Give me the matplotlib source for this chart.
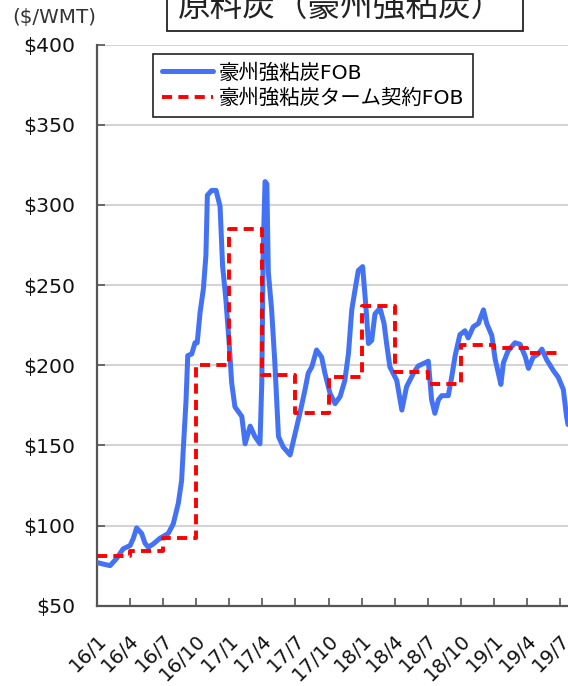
import matplotlib
matplotlib.use("Agg")
import matplotlib.pyplot as plt
import matplotlib.patches as mpatches
import pandas as pd

plt.rcParams['font.family'] = ['DejaVu Sans', 'Noto Sans CJK JP']

# ---- data ----
blue_dates = [
    "2016-01-01", "2016-01-18", "2016-02-07", "2016-02-25", "2016-03-14", "2016-04-02",
    "2016-04-11", "2016-04-20", "2016-05-04", "2016-05-13", "2016-05-22", "2016-06-05",
    "2016-06-23", "2016-07-16", "2016-07-30", "2016-08-13", "2016-08-22", "2016-08-27",
    "2016-09-03", "2016-09-08", "2016-09-19", "2016-09-28", "2016-10-04", "2016-10-12",
    "2016-10-21", "2016-10-28", "2016-11-01", "2016-11-13", "2016-11-25", "2016-12-06",
    "2016-12-13", "2016-12-22", "2016-12-31", "2017-01-07", "2017-01-16", "2017-02-04",
    "2017-02-13", "2017-02-27", "2017-03-12", "2017-03-26", "2017-03-31", "2017-04-04",
    "2017-04-09", "2017-04-14", "2017-04-18", "2017-04-27", "2017-05-06", "2017-05-16",
    "2017-05-29", "2017-06-17", "2017-07-01", "2017-07-14", "2017-07-28", "2017-08-06",
    "2017-08-16", "2017-08-29", "2017-09-12", "2017-09-21", "2017-10-05", "2017-10-19",
    "2017-11-02", "2017-11-15", "2017-11-25", "2017-12-04", "2017-12-13", "2017-12-22",
    "2018-01-03", "2018-01-12", "2018-01-19", "2018-01-28", "2018-02-06", "2018-02-20",
    "2018-03-03", "2018-03-10", "2018-03-19", "2018-04-07", "2018-04-21", "2018-05-04",
    "2018-05-23", "2018-06-05", "2018-06-24", "2018-07-03", "2018-07-12",
    "2018-07-21", "2018-07-31", "2018-08-09", "2018-08-27", "2018-09-05", "2018-09-15",
    "2018-09-28", "2018-10-12", "2018-10-21", "2018-11-04", "2018-11-18", "2018-12-02",
    "2018-12-11", "2018-12-25", "2019-01-03", "2019-01-12", "2019-01-19", "2019-01-26",
    "2019-02-08", "2019-02-27", "2019-03-13", "2019-03-27", "2019-04-05", "2019-04-18",
    "2019-05-02", "2019-05-12", "2019-05-25", "2019-06-13", "2019-06-26", "2019-07-10",
    "2019-07-19", "2019-07-23",
]
blue_values = [
    77, 76, 75, 79.5, 85.5, 87.5,
    92, 98.5, 95, 89, 86.5, 88.5,
    92, 95, 101, 114, 128, 149,
    177, 206, 207, 214, 214, 233,
    247.5, 268.5, 306, 309, 309, 299,
    262, 241, 214, 189, 174, 168,
    151, 162, 155.5, 151, 189, 273,
    314.5, 313, 258, 235, 201.5, 155.5,
    149, 144, 157.5, 170, 184.5, 195,
    199, 209.5, 205, 195, 182.5, 176,
    180.5, 190.5, 207.5, 234.5, 247, 259,
    261.5, 236.5, 213.5, 215.5, 232, 235.5,
    226, 213.5, 199, 190.5, 172, 186.5,
    195, 199.5, 201.5, 202.5, 178.5,
    170, 178.5, 181, 181, 192, 206,
    219, 221.5, 217, 224, 226, 234.5,
    226, 218.5, 204, 195, 188, 201.5,
    209, 214, 213, 205.5, 198, 205,
    207, 210, 203.5, 196.5, 192.5, 185,
    168, 163,
]

term_dates = [
    "2016-01-01", "2016-04-01", "2016-07-01", "2016-10-01", "2017-01-01", "2017-04-01",
    "2017-07-01", "2017-10-01", "2018-01-01", "2018-04-01", "2018-07-01", "2018-10-01",
    "2019-01-01", "2019-04-01", "2019-07-01",
]
term_values = [81, 84, 92.5, 200, 285, 194, 170, 192.5, 237, 196, 188, 212.5, 210.5, 207.5, 207.5]

tick_dates = ["2016-01-01", "2016-04-01", "2016-07-01", "2016-10-01", "2017-01-01",
              "2017-04-01", "2017-07-01", "2017-10-01", "2018-01-01", "2018-04-01",
              "2018-07-01", "2018-10-01", "2019-01-01", "2019-04-01", "2019-07-01"]
tick_labels = ["16/1", "16/4", "16/7", "16/10", "17/1", "17/4", "17/7", "17/10",
               "18/1", "18/4", "18/7", "18/10", "19/1", "19/4", "19/7"]
y_ticks = [50, 100, 150, 200, 250, 300, 350, 400]

series_names = ["豪州強粘炭FOB", "豪州強粘炭ターム契約FOB"]
title_text = "原料炭（豪州強粘炭）"
unit_text = "($/WMT)"

# ---- figure ----
W, H = 568, 686
fig = plt.figure(figsize=(W / 100, H / 100), dpi=100)
ax_left, ax_right = 96.7, 568.0
ax_top, ax_bottom = 44.5, 605.7
ax = fig.add_axes([ax_left / W, 1 - ax_bottom / H, (ax_right - ax_left) / W, (ax_bottom - ax_top) / H])

bd = pd.to_datetime(blue_dates)
td = pd.to_datetime(term_dates)

ax.plot(bd, blue_values, color="#4372F4", lw=3.6, solid_joinstyle="round",
        solid_capstyle="round", label=series_names[0], zorder=3)
ax.plot(td, term_values, color="#FF0000", lw=2.8, drawstyle="steps-post",
        linestyle=(0, (2.6, 1.6)), label=series_names[1], zorder=4)

ax.set_xlim(pd.Timestamp("2016-01-01"), pd.Timestamp("2019-07-23"))
ax.set_ylim(50, 400)
ax.set_yticks(y_ticks)
ax.set_yticklabels([f"${v}" for v in y_ticks], fontsize=14.7, color="#111111")
ax.set_xticks(pd.to_datetime(tick_dates))
ax.set_xticklabels(tick_labels, fontsize=14.2, rotation=45, ha="right",
                   rotation_mode="anchor", color="#111111")
ax.tick_params(axis="y", direction="in", length=6, width=1.2, color="#555555", pad=15.5)
ax.tick_params(axis="x", direction="in", length=6, width=1.2, color="#555555", pad=18)

ax.grid(axis="y", color="#d4d4d4", lw=1.5, zorder=0)
ax.set_axisbelow(True)
for s in ["top", "right"]:
    ax.spines[s].set_visible(False)
for s in ["left", "bottom"]:
    ax.spines[s].set_color("#555555")
    ax.spines[s].set_linewidth(1.6)

leg = ax.legend(loc="upper left", bbox_to_anchor=((153 - ax_left) / (ax_right - ax_left),
                                                   (ax_bottom - 54) / (ax_bottom - ax_top)),
                borderaxespad=0, fontsize=14.7, handlelength=2.5, handletextpad=0.25,
                borderpad=0.45, labelspacing=0.3, frameon=True, fancybox=False)
leg.get_frame().set_edgecolor("#222222")
leg.get_frame().set_linewidth(1.2)
leg.get_frame().set_alpha(1)

# unit label
fig.text(12 / W, 1 - 17 / H, unit_text, fontsize=14.3, ha="left", va="center", color="#333333")

# title box (cropped at top)
rect = mpatches.Rectangle((167 / W, 1 - 30.7 / H), (523 - 167) / W, 40 / H,
                          transform=fig.transFigure, facecolor="white",
                          edgecolor="#222222", lw=1.3, clip_on=False)
fig.patches.append(rect)
fig.text(178 / W, 1 - 8 / H, title_text, fontsize=23.5, ha="left", va="center",
         color="#222222", family=["Noto Sans CJK JP"])

fig.savefig("out.png", dpi=100)
